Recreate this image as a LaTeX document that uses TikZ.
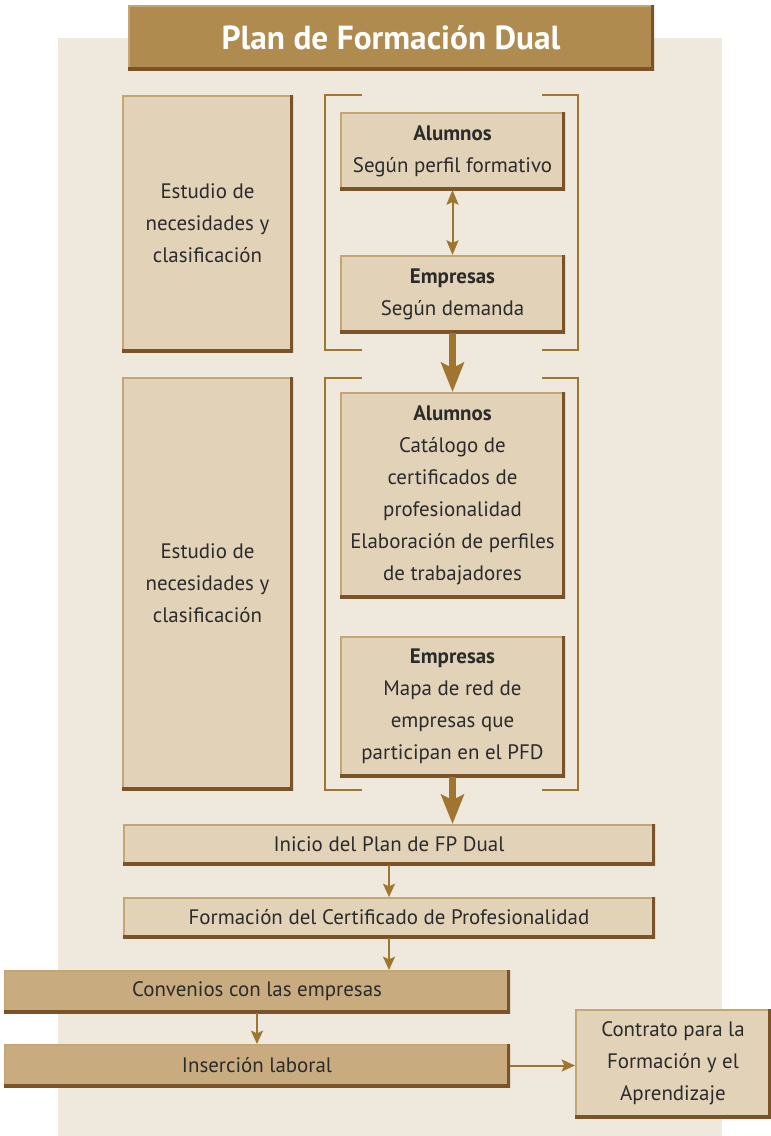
\documentclass[tikz,border=0pt]{standalone}
\usepackage{fontspec}
\setmainfont{PT Sans}
\usetikzlibrary{arrows.meta}

\definecolor{panelbg}{HTML}{EFE8DC}
\definecolor{boxlight}{HTML}{E1D2B8}
\definecolor{boxdark}{HTML}{C8AB7E}
\definecolor{titlefill}{HTML}{B08B50}
\definecolor{edgedark}{HTML}{7B5329}
\definecolor{edgelight}{HTML}{C4A574}
\definecolor{gold}{HTML}{9E7630}
\definecolor{txt}{HTML}{2B2B2B}

\tikzset{
  bevel/.style={inner sep=0pt, outer sep=0pt, text=txt, align=center,
    font=\fontsize{15.7}{24}\selectfont,
    path picture={
      \draw[line width=3pt, edgelight] (path picture bounding box.south west) -- (path picture bounding box.north west) -- (path picture bounding box.north east);
      \draw[line width=4.5pt, edgedark] (path picture bounding box.south west) -- (path picture bounding box.south east) -- (path picture bounding box.north east);
    }},
  lightbox/.style={bevel, fill=boxlight},
  darkbox/.style={bevel, fill=boxdark},
  titlebox/.style={bevel, fill=titlefill, text=white, font=\fontsize{25}{28}\selectfont\bfseries},
  bracket/.style={gold, line width=1.8pt},
  arr/.style={gold, line width=1.5pt, -{Stealth[length=10pt, width=9pt, inset=2pt]}},
  bigarr/.style={gold, line width=5pt, -{Stealth[length=22pt, width=17pt, inset=4pt]}},
  dblarr/.style={gold, line width=1.5pt, {Stealth[length=11pt, width=9pt, inset=2pt]}-{Stealth[length=11pt, width=9pt, inset=2pt]}}
}

\begin{document}
\begin{tikzpicture}[x=0.75pt, y=-0.75pt]
\useasboundingbox (0,0) rectangle (771,1136);
\fill[white] (0,0) rectangle (771,1136);
\fill[panelbg] (58,38) rectangle (722,1136);

\node[titlebox, minimum width=394.5pt, minimum height=48.75pt] (title) at (391,37.5) {Plan de Formación Dual};

\node[lightbox, minimum width=128.25pt, minimum height=192.75pt] (est1) at (207.5,223.5) {Estudio de\\necesidades y\\clasificación};
\node[lightbox, minimum width=128.25pt, minimum height=309.75pt] (est2) at (207.5,583.5) {Estudio de\\necesidades y\\clasificación};

\draw[bracket] (362,95) -- (325,95) -- (325,350) -- (362,350);
\draw[bracket] (542,95) -- (578,95) -- (578,350) -- (542,350);
\draw[bracket] (362,378) -- (325,378) -- (325,790) -- (362,790);
\draw[bracket] (542,378) -- (578,378) -- (578,790) -- (542,790);

\node[lightbox, minimum width=168.75pt, minimum height=58.5pt] (alu1) at (452.5,151) {\textbf{Alumnos}\\Según perfil formativo};
\node[lightbox, minimum width=168.75pt, minimum height=58.5pt] (emp1) at (452.5,294) {\textbf{Empresas}\\Según demanda};
\node[lightbox, minimum width=168.75pt, minimum height=154.5pt] (alu2) at (452.5,495) {\textbf{Alumnos}\\Catálogo de\\certificados de\\profesionalidad\\Elaboración de perfiles\\de trabajadores};
\node[lightbox, minimum width=168.75pt, minimum height=105.75pt] (emp2) at (452.5,706.5) {\textbf{Empresas}\\Mapa de red de\\empresas que\\participan en el PFD};

\node[lightbox, minimum width=399pt, minimum height=30.75pt] (inicio) at (389,844.5) {Inicio del Plan de FP Dual};
\node[lightbox, minimum width=399pt, minimum height=30.75pt] (formacion) at (389,917.5) {Formación del Certificado de Profesionalidad};
\node[darkbox, minimum width=379.5pt, minimum height=32.25pt] (convenios) at (257,991.5) {Convenios con las empresas};
\node[darkbox, minimum width=379.5pt, minimum height=32.25pt] (insercion) at (257,1065.5) {Inserción laboral};
\node[lightbox, minimum width=147pt, minimum height=81.75pt] (contrato) at (673,1063.5) {Contrato para la\\Formación y el\\Aprendizaje};

\draw [dblarr] (alu1) edge (emp1);
\draw [bigarr] (emp1) edge (alu2);
\draw [bigarr] (emp2.south) -- (emp2.south |- inicio.north);
\draw [arr] (inicio) edge (formacion);
\draw [arr] (formacion.south) -- (formacion.south |- convenios.north);
\draw [arr] (convenios) edge (insercion);
\draw [arr] (insercion.east) -- (insercion.east -| contrato.west);

\end{tikzpicture}
\end{document}
